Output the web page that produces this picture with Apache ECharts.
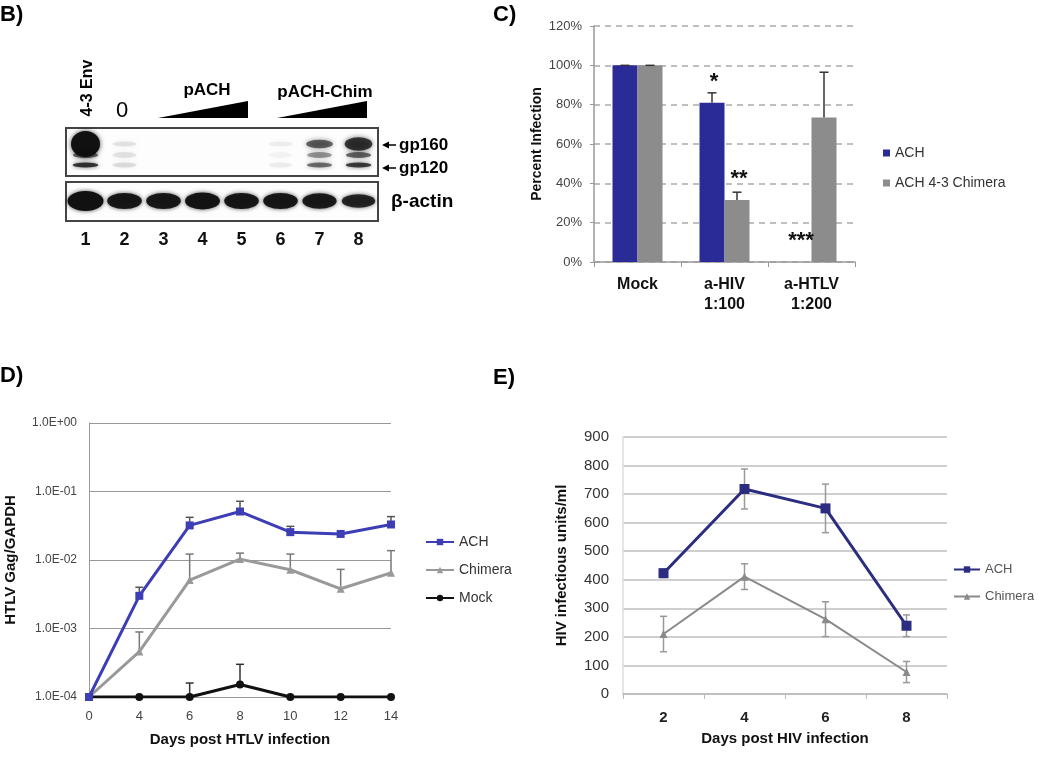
<!DOCTYPE html>
<html>
<head>
<meta charset="utf-8">
<script src="https://cdn.jsdelivr.net/npm/echarts@6/dist/echarts.min.js"></script>
<style>
html,body{margin:0;padding:0;background:#fff;}
#chart{width:1050px;height:757px;}
</style>
</head>
<body>
<div id="chart"></div>
<script>
// ---------- Panel B: western blot (band intensities, 0..1) ----------
const blotLanes = ['1', '2', '3', '4', '5', '6', '7', '8'];
const gp160Band = [1.0, 0.08, 0, 0, 0, 0.05, 0.55, 0.74];
const midBand = [0.55, 0.08, 0, 0, 0, 0.03, 0.35, 0.55];
const gp120Band = [0.75, 0.1, 0, 0, 0, 0.05, 0.5, 0.72];
const actinBand = [1.0, 0.9, 0.9, 0.92, 0.9, 0.9, 0.88, 0.82];

// ---------- Panel C ----------
const cCategories = ['Mock', 'a-HIV\n1:100', 'a-HTLV\n1:200'];
const cACH = [1.00, 0.81, 0];
const cACHsd = [0, 0.05, null];
const cChim = [1.00, 0.315, 0.735];
const cChimSd = [0, 0.04, 0.23];
const cSigText = ['*', '**', '***'];
const cSigCat = [1, 1, 2];
const cSigSeries = [0, 1, 0];       // 0 = ACH bar, 1 = Chimera bar
const cSigY = [0.93, 0.44, 0.12];

// ---------- Panel D ----------
const dDays = ['0', '4', '6', '8', '10', '12', '14'];
const dACH = [1e-4, 3.0e-3, 3.2e-2, 5.1e-2, 2.55e-2, 2.4e-2, 3.3e-2];
const dACHsd = [null, 1.0e-3, 1.0e-2, 2.1e-2, 5.5e-3, null, 1.0e-2];
const dChim = [1e-4, 4.6e-4, 5.1e-3, 1.03e-2, 7.2e-3, 3.8e-3, 6.5e-3];
const dChimSd = [null, 4.3e-4, 7.1e-3, 2.3e-3, 5.0e-3, 3.5e-3, 7.2e-3];
const dMock = [1e-4, 1e-4, 1e-4, 1.52e-4, 1e-4, 1e-4, 1e-4];
const dMockSd = [null, null, 6e-5, 1.48e-4, null, null, null];

// ---------- Panel E ----------
const eDays = ['2', '4', '6', '8'];
const eACH = [423, 718, 650, 239];
const eACHsd = [15, 70, 85, 38];
const eChim = [210, 411, 262, 77];
const eChimSd = [62, 45, 61, 37];

const FONT = '"Liberation Sans", Arial, sans-serif';

function errSeries(name, xi, yi, means, sds, opt) {
  const data = [];
  means.forEach((m, i) => { if (m != null && sds[i] != null) data.push([i, m, sds[i]]); });
  return {
    type: 'custom', name: name, xAxisIndex: xi, yAxisIndex: yi, silent: true,
    z: opt.z || 3, data: data,
    renderItem: function (params, api) {
      const i = api.value(0), m = api.value(1), s = api.value(2);
      const mid = api.coord([i, m]);
      const hi = api.coord([i, m + s]);
      const lo = opt.both ? api.coord([i, m - s]) : mid;
      const x = mid[0] + (opt.offset || 0);
      const hw = opt.cap / 2;
      const st = { stroke: opt.color, lineWidth: opt.width || 1.5 };
      const ch = [
        { type: 'line', shape: { x1: x, y1: lo[1], x2: x, y2: hi[1] }, style: st },
        { type: 'line', shape: { x1: x - hw, y1: hi[1], x2: x + hw, y2: hi[1] }, style: st }
      ];
      if (opt.both) ch.push({ type: 'line', shape: { x1: x - hw, y1: lo[1], x2: x + hw, y2: lo[1] }, style: st });
      return { type: 'group', children: ch };
    }
  };
}

function blotSeries(name, xi, yi, vals, ypos, sizeFn, blur) {
  const data = [];
  vals.forEach((v, i) => {
    if (v > 0) {
      data.push({
        value: [i, ypos],
        symbolSize: sizeFn(v),
        itemStyle: { opacity: Math.min(1, v * 1.05) }
      });
    }
  });
  return {
    type: 'scatter', name: name, xAxisIndex: xi, yAxisIndex: yi, silent: true,
    symbol: 'circle', data: data,
    itemStyle: { color: '#111', shadowBlur: blur, shadowColor: 'rgba(0,0,0,0.7)' }
  };
}

const BAR_W = 25;
const chart = echarts.init(document.getElementById('chart'));

const option = {
  animation: false,
  backgroundColor: '#fff',
  textStyle: { fontFamily: FONT },
  grid: [
    { left: 66, top: 128, width: 312, height: 48, show: true, borderColor: '#444', borderWidth: 2, backgroundColor: '#fdfdfd' },
    { left: 66, top: 182, width: 312, height: 39, show: true, borderColor: '#444', borderWidth: 2, backgroundColor: '#fdfdfd' },
    { left: 594, top: 26, width: 261, height: 236 },
    { left: 89, top: 423, width: 302, height: 274 },
    { left: 623, top: 437, width: 324, height: 257 }
  ],
  xAxis: [
    { gridIndex: 0, type: 'category', data: blotLanes, show: false },
    { gridIndex: 1, type: 'category', data: blotLanes, axisLine: { show: false }, axisTick: { show: false },
      axisLabel: { margin: 10, fontSize: 18, fontWeight: 'bold', color: '#111' } },
    { gridIndex: 2, type: 'category', data: cCategories,
      axisLine: { lineStyle: { color: '#999', width: 1.5 } },
      axisTick: { show: true, length: 5, lineStyle: { color: '#999' } },
      axisLabel: { margin: 13, fontSize: 16, fontWeight: 'bold', color: '#111', lineHeight: 20 } },
    { gridIndex: 3, type: 'category', data: dDays, boundaryGap: false,
      axisLine: { show: false }, axisTick: { show: false },
      axisLabel: { margin: 13, fontSize: 13, color: '#444' },
      name: 'Days post HTLV infection', nameLocation: 'middle', nameGap: 35,
      nameTextStyle: { fontSize: 15, fontWeight: 'bold', color: '#111' } },
    { gridIndex: 4, type: 'category', data: eDays,
      axisLine: { lineStyle: { color: '#bbb', width: 1.5 } },
      axisTick: { show: true, length: 5, lineStyle: { color: '#bbb' } },
      axisLabel: { margin: 16, fontSize: 15, fontWeight: 'bold', color: '#222' },
      name: 'Days post HIV infection', nameLocation: 'middle', nameGap: 37,
      nameTextStyle: { fontSize: 15, fontWeight: 'bold', color: '#111' } }
  ],
  yAxis: [
    { gridIndex: 0, type: 'value', min: 0, max: 48, inverse: true, show: false },
    { gridIndex: 1, type: 'value', min: 0, max: 39, inverse: true, show: false },
    { gridIndex: 2, type: 'value', min: 0, max: 1.2, interval: 0.2,
      axisLine: { show: true, lineStyle: { color: '#999', width: 1.5 } },
      axisTick: { show: true, length: 4, lineStyle: { color: '#999' } },
      splitLine: { lineStyle: { color: '#aaa', type: [6, 5], width: 1.5 } },
      axisLabel: { margin: 12, fontSize: 13, color: '#444', formatter: v => Math.round(v * 100) + '%' },
      name: 'Percent Infection', nameLocation: 'middle', nameGap: 50,
      nameTextStyle: { fontSize: 14, fontWeight: 'bold', color: '#111' } },
    { gridIndex: 3, type: 'log', logBase: 10, min: 1e-4, max: 1,
      axisLine: { show: true, lineStyle: { color: '#999', width: 1 } },
      axisTick: { show: false },
      splitLine: { lineStyle: { color: '#999', width: 1 } },
      axisLabel: { margin: 12, fontSize: 12, color: '#444', formatter: function (v) {
        const e = Math.round(Math.log10(v));
        return '1.0E' + (e < 0 ? '-' : '+') + String(Math.abs(e)).padStart(2, '0');
      } },
      name: 'HTLV Gag/GAPDH', nameLocation: 'middle', nameGap: 71,
      nameTextStyle: { fontSize: 15, fontWeight: 'bold', color: '#111' } },
    { gridIndex: 4, type: 'value', min: 0, max: 900, interval: 100,
      axisLine: { show: true, lineStyle: { color: '#ddd', width: 1.5 } },
      axisTick: { show: false },
      splitLine: { lineStyle: { color: '#cfcfcf', width: 2 } },
      axisLabel: { margin: 14, fontSize: 15, color: '#333' },
      name: 'HIV infectious units/ml', nameLocation: 'middle', nameGap: 54,
      nameTextStyle: { fontSize: 15, fontWeight: 'bold', color: '#111' } }
  ],
  legend: [
    { data: ['ACH', 'ACH 4-3 Chimera'], orient: 'vertical', left: 883, top: 146, itemGap: 16, padding: 0,
      itemWidth: 7, itemHeight: 7, icon: 'rect', selectedMode: false,
      textStyle: { fontSize: 14, color: '#333', fontFamily: FONT } },
    { data: ['D:ACH', 'D:Chimera', 'D:Mock'], orient: 'vertical', left: 425, top: 535, itemGap: 14, padding: 0,
      itemWidth: 28, itemHeight: 8, selectedMode: false, formatter: n => n.slice(2),
      textStyle: { fontSize: 14, color: '#333', fontFamily: FONT } },
    { data: ['E:ACH', 'E:Chimera'], orient: 'vertical', left: 953, top: 563, itemGap: 14, padding: 0,
      itemWidth: 26, itemHeight: 8, selectedMode: false, formatter: n => n.slice(2),
      textStyle: { fontSize: 13, color: '#555', fontFamily: FONT } }
  ],
  series: [
    // ---- blot ----
    blotSeries('gp160', 0, 0, gp160Band, 16, v => [24 + 5 * v, 5 + 21 * v * v * v], 5),
    blotSeries('mid', 0, 0, midBand, 27, v => [24 + 2 * v, 6], 5),
    blotSeries('gp120', 0, 0, gp120Band, 37, v => [24 + 2 * v, 5], 4),
    blotSeries('actin', 1, 1, actinBand, 19, v => [22 + 14 * v, 6 + 14 * v * v * v], 4),
    // ---- C ----
    { type: 'bar', name: 'ACH', xAxisIndex: 2, yAxisIndex: 2, data: cACH, barWidth: BAR_W, barGap: '0%',
      itemStyle: { color: '#2b2b98' } },
    { type: 'bar', name: 'ACH 4-3 Chimera', xAxisIndex: 2, yAxisIndex: 2, data: cChim, barWidth: BAR_W, barGap: '0%',
      itemStyle: { color: '#8c8c8c' } },
    errSeries('errC1', 2, 2, cACH, cACHsd, { offset: -BAR_W / 2, cap: 9, color: '#333', width: 1.5, z: 5 }),
    errSeries('errC2', 2, 2, cChim, cChimSd, { offset: BAR_W / 2, cap: 9, color: '#333', width: 1.5, z: 5 }),
    { type: 'custom', name: 'sig', xAxisIndex: 2, yAxisIndex: 2, silent: true, z: 6,
      data: cSigText.map((t, i) => [cSigCat[i], cSigY[i], cSigSeries[i]]),
      renderItem: function (params, api) {
        const p = api.coord([api.value(0), api.value(1)]);
        const off = api.value(2) === 0 ? -BAR_W / 2 : BAR_W / 2;
        return { type: 'text', x: p[0] + off + 2, y: p[1] + 3,
          style: { text: cSigText[params.dataIndex], font: 'bold 22px ' + FONT, fill: '#111',
            textAlign: 'center', textVerticalAlign: 'middle' } };
      } },
    // ---- D ----
    errSeries('errDACH', 3, 3, dACH, dACHsd, { cap: 8, color: '#555', width: 1.5, z: 2 }),
    errSeries('errDChim', 3, 3, dChim, dChimSd, { cap: 8, color: '#777', width: 1.5, z: 2 }),
    errSeries('errDMock', 3, 3, dMock, dMockSd, { cap: 8, color: '#333', width: 1.5, z: 2 }),
    { type: 'line', name: 'D:Mock', xAxisIndex: 3, yAxisIndex: 3, data: dMock, symbol: 'circle', symbolSize: 8,
      lineStyle: { color: '#111', width: 3 }, itemStyle: { color: '#111' }, z: 3 },
    { type: 'line', name: 'D:Chimera', xAxisIndex: 3, yAxisIndex: 3, data: dChim, symbol: 'triangle', symbolSize: 8,
      lineStyle: { color: '#999', width: 3 }, itemStyle: { color: '#999' }, z: 3 },
    { type: 'line', name: 'D:ACH', xAxisIndex: 3, yAxisIndex: 3, data: dACH, symbol: 'rect', symbolSize: 8,
      lineStyle: { color: '#3d3db5', width: 3 }, itemStyle: { color: '#3d3db5' }, z: 4 },
    // ---- E ----
    errSeries('errEACH', 4, 4, eACH, eACHsd, { both: true, cap: 7, color: '#999', width: 1.5, z: 2 }),
    errSeries('errEChim', 4, 4, eChim, eChimSd, { both: true, cap: 7, color: '#999', width: 1.5, z: 2 }),
    { type: 'line', name: 'E:ACH', xAxisIndex: 4, yAxisIndex: 4, data: eACH, symbol: 'rect', symbolSize: 10,
      lineStyle: { color: '#2c2c80', width: 3 }, itemStyle: { color: '#2c2c80' }, z: 4 },
    { type: 'line', name: 'E:Chimera', xAxisIndex: 4, yAxisIndex: 4, data: eChim, symbol: 'triangle', symbolSize: 8,
      lineStyle: { color: '#8a8a8a', width: 2 }, itemStyle: { color: '#8a8a8a' }, z: 3 }
  ],
  graphic: { elements: [
    // panel labels
    { type: 'text', x: 0, y: 15, style: { text: 'B)', font: 'bold 22px ' + FONT, fill: '#000', textVerticalAlign: 'middle' } },
    { type: 'text', x: 493, y: 15, style: { text: 'C)', font: 'bold 22px ' + FONT, fill: '#000', textVerticalAlign: 'middle' } },
    { type: 'text', x: 0, y: 376, style: { text: 'D)', font: 'bold 22px ' + FONT, fill: '#000', textVerticalAlign: 'middle' } },
    { type: 'text', x: 493, y: 378, style: { text: 'E)', font: 'bold 22px ' + FONT, fill: '#000', textVerticalAlign: 'middle' } },
    // blot annotations
    { type: 'text', x: 88, y: 88, rotation: Math.PI / 2,
      style: { text: '4-3 Env', font: 'bold 16px ' + FONT, fill: '#000', textAlign: 'center', textVerticalAlign: 'middle' } },
    { type: 'text', x: 122, y: 111, style: { text: '0', font: '22px ' + FONT, fill: '#000', textAlign: 'center', textVerticalAlign: 'middle' } },
    { type: 'text', x: 207, y: 90, style: { text: 'pACH', font: 'bold 17px ' + FONT, fill: '#000', textAlign: 'center', textVerticalAlign: 'middle' } },
    { type: 'polygon', shape: { points: [[158, 118], [248, 101], [248, 118]] }, style: { fill: '#000' } },
    { type: 'text', x: 325, y: 92, style: { text: 'pACH-Chim', font: 'bold 17px ' + FONT, fill: '#000', textAlign: 'center', textVerticalAlign: 'middle' } },
    { type: 'polygon', shape: { points: [[277, 118], [367, 101], [367, 118]] }, style: { fill: '#000' } },
    { type: 'line', shape: { x1: 386, y1: 145, x2: 396, y2: 145 }, style: { stroke: '#000', lineWidth: 1.5 } },
    { type: 'polygon', shape: { points: [[382, 145], [389, 141.5], [389, 148.5]] }, style: { fill: '#000' } },
    { type: 'text', x: 399, y: 145, style: { text: 'gp160', font: 'bold 17px ' + FONT, fill: '#000', textVerticalAlign: 'middle' } },
    { type: 'line', shape: { x1: 386, y1: 168, x2: 396, y2: 168 }, style: { stroke: '#000', lineWidth: 1.5 } },
    { type: 'polygon', shape: { points: [[382, 168], [389, 164.5], [389, 171.5]] }, style: { fill: '#000' } },
    { type: 'text', x: 399, y: 168, style: { text: 'gp120', font: 'bold 17px ' + FONT, fill: '#000', textVerticalAlign: 'middle' } },
    { type: 'text', x: 391, y: 202, style: { text: 'β-actin', font: 'bold 19px ' + FONT, fill: '#000', textVerticalAlign: 'middle' } }
  ] }
};

chart.setOption(option);
</script>
</body>
</html>
